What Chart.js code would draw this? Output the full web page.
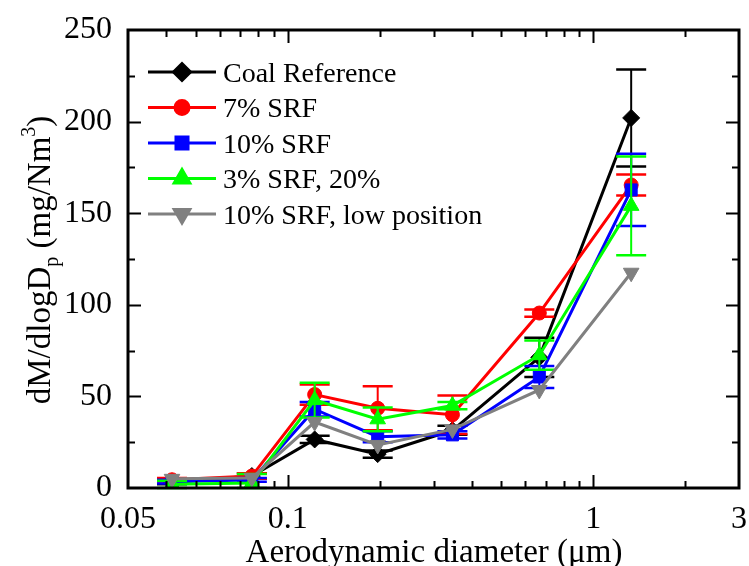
<!DOCTYPE html>
<html>
<head>
<meta charset="utf-8">
<script src="https://cdn.jsdelivr.net/npm/chart.js@4.4.1/dist/chart.umd.min.js"></script>
<style>
  html, body { margin: 0; padding: 0; background: #fff; }
</style>
</head>
<body>
<canvas id="psdChart" width="749" height="566"></canvas>
<script>
// === data ===
const diameters = [0.0418, 0.0763, 0.1225, 0.197, 0.346, 0.666, 1.331]; // um

const coalRef    = [3, 6.5, 26.5, 18.5, 31.5, 71.3, 202];
const coalRefErr = [1, 1.5, 2, 2, 2.5, 10.7, 26.5];
const srf7       = [4.5, 6.5, 51, 43.5, 40, 95.5, 165.4];
const srf7Err    = [1, 1.5, 5.5, 12, 10.5, 2, 5.7];
const srf10      = [3.5, 4.4, 43, 28, 29, 60.6, 162.7];
const srf10Err   = [1, 1, 4, 3, 2, 6, 19.7];
const srf3       = [2, 2.7, 48, 37.5, 45, 72.5, 154];
const srf3Err    = [2, 5, 9.5, 6.5, 2, 8, 27];
const srf10Low   = [5, 5.5, 36, 23.5, 32, 53.5, 117.5];
const srf10LowErr= [0, 0, 0, 0, 0, 0, 0]; // no bars visible

const seriesNames = ['Coal Reference', '7% SRF', '10% SRF', '3% SRF, 20%', '10% SRF, low position'];
const xTickValues = [0.03, 0.1, 1, 3];
const xTickLabels = ['0.05', '0.1', '1', '3'];
const yTickValues = [0, 50, 100, 150, 200, 250];

const FONT = "'Liberation Serif', 'Times New Roman', serif";

function makeSet(i, ys, errs, color, style, rotation, radius) {
  return {
    label: seriesNames[i],
    data: diameters.map((x, k) => ({ x: x, y: ys[k] })),
    errorBars: errs,
    borderColor: color,
    backgroundColor: color,
    borderWidth: 3,
    pointStyle: style,
    rotation: rotation,
    pointRadius: radius,
    pointBorderWidth: 1,
    pointBorderColor: color,
    pointBackgroundColor: color,
    order: 5 - i // later series drawn on top
  };
}

const datasets = [
  makeSet(0, coalRef, coalRefErr, '#000000', 'rectRot', 0, 8.5),
  makeSet(1, srf7, srf7Err, '#ff0000', 'circle', 0, 7),
  makeSet(2, srf10, srf10Err, '#0000ff', 'rect', 0, 8.5),
  makeSet(3, srf3, srf3Err, '#00ff00', 'triangle', 0, 9),
  makeSet(4, srf10Low, srf10LowErr, '#808080', 'triangle', 180, 9)
];

// error bars, drawn just before each dataset
const errorBarPlugin = {
  id: 'errorBars',
  beforeDatasetDraw(chart, args) {
    const ds = chart.data.datasets[args.index];
    if (!ds.errorBars) return;
    const ctx = chart.ctx, xs = chart.scales.x, ys = chart.scales.y;
    ctx.save();
    ctx.strokeStyle = ds.borderColor;
    ds.data.forEach((p, k) => {
      const e = ds.errorBars[k];
      if (!e) return;
      const px = xs.getPixelForValue(p.x);
      const top = ys.getPixelForValue(p.y + e);
      const bot = ys.getPixelForValue(Math.max(p.y - e, 0));
      ctx.lineWidth = 2;
      ctx.beginPath();
      ctx.moveTo(px, top); ctx.lineTo(px, bot);
      ctx.stroke();
      ctx.lineWidth = 2.5;
      ctx.beginPath();
      ctx.moveTo(px - 15, top); ctx.lineTo(px + 15, top);
      ctx.moveTo(px - 15, bot); ctx.lineTo(px + 15, bot);
      ctx.stroke();
    });
    ctx.restore();
  }
};

// frame with inward ticks, axis titles, legend
const framePlugin = {
  id: 'frame',
  afterDraw(chart) {
    const ctx = chart.ctx, a = chart.chartArea;
    const xs = chart.scales.x, ys = chart.scales.y;
    ctx.save();
    ctx.strokeStyle = '#000';
    ctx.lineWidth = 2;
    ctx.beginPath();
    // x ticks top and bottom
    for (let d = -2; d <= 0; d++) {
      for (let k = 1; k <= 9; k++) {
        const v = k * Math.pow(10, d);
        if (v <= 0.03 || v >= 3) continue;
        const px = Math.round(xs.getPixelForValue(v)) + 0.5;
        const len = k === 1 ? 13 : 7;
        ctx.moveTo(px, a.bottom); ctx.lineTo(px, a.bottom - len);
        ctx.moveTo(px, a.top); ctx.lineTo(px, a.top + len);
      }
    }
    // y ticks left and right
    for (let v = 25; v < 250; v += 25) {
      const py = Math.round(ys.getPixelForValue(v)) + 0.5;
      const len = v % 50 === 0 ? 13 : 7;
      ctx.moveTo(a.left, py); ctx.lineTo(a.left + len, py);
      ctx.moveTo(a.right, py); ctx.lineTo(a.right - len, py);
    }
    ctx.stroke();
    ctx.lineWidth = 3;
    ctx.strokeRect(a.left, a.top, a.right - a.left, a.bottom - a.top);

    // x axis title
    ctx.fillStyle = '#000';
    ctx.font = '33px ' + FONT;
    ctx.textAlign = 'center';
    ctx.textBaseline = 'alphabetic';
    ctx.fillText('Aerodynamic diameter (\u03bcm)', 434, 562);

    // y axis title with subscript and superscript
    const parts = [
      { t: 'dM/dlogD', s: 33, dy: 0 },
      { t: 'p', s: 20, dy: 8 },
      { t: ' (mg/Nm', s: 33, dy: 0 },
      { t: '3', s: 20, dy: -15 },
      { t: ')', s: 33, dy: 0 }
    ];
    let total = 0;
    parts.forEach(p => { ctx.font = p.s + 'px ' + FONT; p.w = ctx.measureText(p.t).width; total += p.w; });
    ctx.save();
    ctx.translate(50, 260);
    ctx.rotate(-Math.PI / 2);
    ctx.textAlign = 'left';
    let cx = -total / 2;
    parts.forEach(p => {
      ctx.font = p.s + 'px ' + FONT;
      ctx.fillText(p.t, cx, p.dy);
      cx += p.w;
    });
    ctx.restore();

    // legend
    chart.data.datasets.forEach((ds, i) => {
      const ly = 72 + i * 35.5;
      ctx.strokeStyle = ds.borderColor;
      ctx.lineWidth = 3;
      ctx.beginPath();
      ctx.moveTo(148, ly); ctx.lineTo(216, ly);
      ctx.stroke();
      ctx.fillStyle = ds.borderColor;
      Chart.helpers.drawPoint(ctx, {
        pointStyle: ds.pointStyle, rotation: ds.rotation,
        radius: ds.pointRadius, borderWidth: 1
      }, 182, ly);
      ctx.fillStyle = '#000';
      ctx.font = '28px ' + FONT;
      ctx.textAlign = 'left';
      ctx.fillText(ds.label, 223, ly + 9.5);
    });
    ctx.restore();
  }
};

new Chart(document.getElementById('psdChart'), {
  type: 'line',
  data: { datasets: datasets },
  options: {
    responsive: false,
    animation: false,
    devicePixelRatio: 1,
    layout: { padding: { top: 30, right: 9, left: 0, bottom: 0 } },
    plugins: { legend: { display: false }, tooltip: { enabled: false } },
    scales: {
      x: {
        type: 'logarithmic',
        min: 0.03,
        max: 3,
        afterBuildTicks: s => { s.ticks = xTickValues.map(v => ({ value: v })); },
        afterFit: s => { s.height = 78; s.paddingLeft = 0; s.paddingRight = 0; },
        grid: { display: false, drawTicks: false },
        border: { display: false },
        ticks: {
          autoSkip: false, maxRotation: 0, padding: 12, color: '#000',
          font: { family: FONT, size: 32 },
          callback: v => xTickLabels[xTickValues.indexOf(v)]
        }
      },
      y: {
        min: 0,
        max: 250,
        afterBuildTicks: s => { s.ticks = yTickValues.map(v => ({ value: v })); },
        afterFit: s => { s.width = 128; s.paddingTop = 0; s.paddingBottom = 0; },
        grid: { display: false, drawTicks: false },
        border: { display: false },
        ticks: {
          padding: 16, color: '#000',
          font: { family: FONT, size: 32 }
        }
      }
    }
  },
  plugins: [errorBarPlugin, framePlugin]
});
</script>
</body>
</html>
